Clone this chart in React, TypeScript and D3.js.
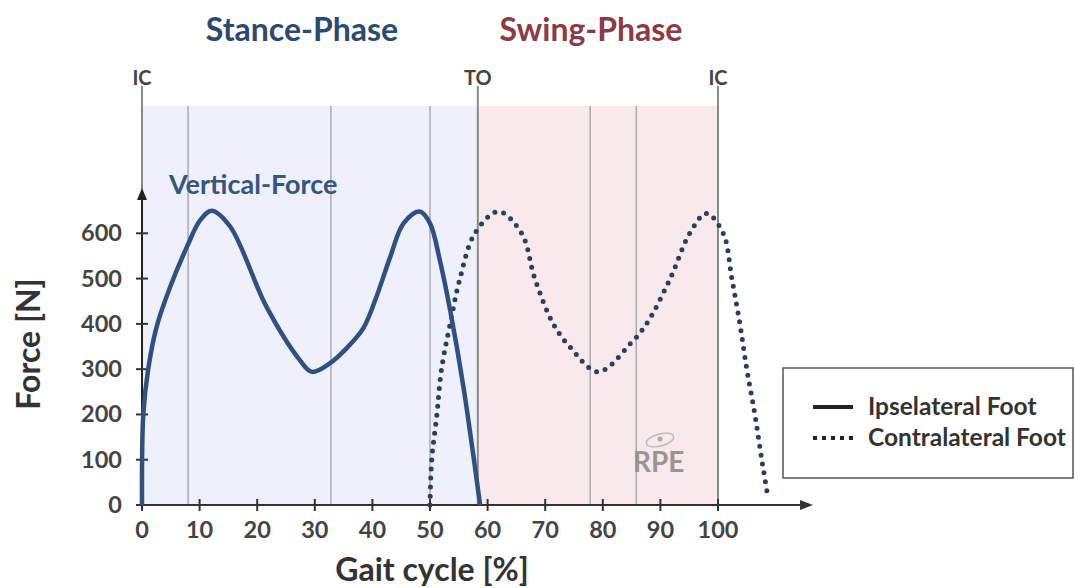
import React from "react";
import * as d3 from "d3";

const xTicks = [0, 10, 20, 30, 40, 50, 60, 70, 80, 90, 100];
const yTicks = [0, 100, 200, 300, 400, 500, 600];

const ipsiX = [0, 0.23, 1.1, 2.55, 4.9, 7.8, 10.1, 12.1, 15.3, 21.6, 27.4, 29.5, 32.6, 35.5, 38.4, 40.7, 43.1, 45.4, 48.2, 50, 51.7, 53.5, 55.8, 58.7];
const ipsiY = [0, 202, 302, 394, 482, 570, 629, 650, 615, 438, 320, 294, 313, 346, 390, 460, 548, 622, 648, 622, 541, 430, 261, 0];

const contraX = [50, 50.3, 51.2, 52, 53.5, 55.2, 57.8, 61.9, 65.9, 68.2, 71.4, 74.3, 79.2, 84.7, 87.6, 91.7, 95.1, 98, 100.9, 102.4, 103.8, 105, 106.4, 107.6, 108.7];
const contraY = [0, 100, 200, 300, 400, 500, 600, 648, 600, 500, 400, 349, 294, 355, 400, 500, 600, 644, 600, 500, 400, 300, 200, 100, 15];

const thinLines = [8, 32.8, 50, 77.8, 85.8];
const eventLines = [0, 58.3, 100];
const eventLabels = ["IC", "TO", "IC"];
const phaseLabels = ["Stance-Phase", "Swing-Phase"];
const legendLabels = ["Ipselateral Foot", "Contralateral Foot"];

const FONT = "Lato, 'Open Sans', sans-serif";

export default function App() {
  const x = d3.scaleLinear().domain([0, 100]).range([142, 718]);
  const y = d3.scaleLinear().domain([0, 600]).range([505, 233.3]);

  const line = d3
    .line<[number, number]>()
    .x((d) => x(d[0]))
    .y((d) => y(d[1]))
    .curve(d3.curveCatmullRom.alpha(0.5));

  const ipsi = ipsiX.map((v, i) => [v, ipsiY[i]] as [number, number]);
  const contra = contraX.map((v, i) => [v, contraY[i]] as [number, number]);

  const top = 106;
  const blue = "#2f5080";

  return (
    <svg
      width={1075}
      height={588}
      style={{ position: "absolute", left: 0, top: 0, background: "#fff" }}
      fontFamily={FONT}
    >
      {/* shaded phases */}
      <rect x={x(0)} y={top} width={x(58.3) - x(0)} height={y(0) - top} fill="#eef0fb" />
      <rect x={x(58.3)} y={top} width={x(100) - x(58.3)} height={y(0) - top} fill="#f8eaea" />

      {/* thin vertical lines */}
      {thinLines.map((v, i) => (
        <line key={i} x1={x(v)} x2={x(v)} y1={top} y2={y(0)} stroke="#9a9a9a" strokeWidth={1.2} />
      ))}
      {eventLines.map((v, i) => (
        <line key={i} x1={x(v)} x2={x(v)} y1={86} y2={y(0)} stroke="#8a8a8a" strokeWidth={2} />
      ))}
      {eventLines.map((v, i) => (
        <text key={i} x={x(v)} y={85} textAnchor="middle" fontSize={20} fontWeight={700} fill="#444">
          {eventLabels[i]}
        </text>
      ))}

      {/* phase titles */}
      <text x={302} y={41} textAnchor="middle" fontSize={32} fontWeight={700} fill="#2c4a6e">
        {phaseLabels[0]}
      </text>
      <text x={591} y={41} textAnchor="middle" fontSize={32} fontWeight={700} fill="#8c3a45">
        {phaseLabels[1]}
      </text>
      <text x={169} y={194} fontSize={27} fontWeight={700} fill="#34557c">
        Vertical-Force
      </text>

      {/* axes */}
      <line x1={x(0)} x2={x(0)} y1={y(0)} y2={198} stroke="#222" strokeWidth={2} />
      <path d={`M${x(0) - 5},${200} L${x(0)},${188} L${x(0) + 5},${200} Z`} fill="#222" />
      <line x1={x(0)} x2={800} y1={y(0)} y2={y(0)} stroke="#333" strokeWidth={2} />
      <path d={`M800,${y(0) - 5} L813,${y(0)} L800,${y(0) + 5} Z`} fill="#333" />

      {yTicks.map((t) => (
        <g key={t}>
          <line x1={x(0) - 6} x2={x(0) + 6} y1={y(t)} y2={y(t)} stroke="#333" strokeWidth={2} />
          <text x={122} y={y(t) + 8} textAnchor="end" fontSize={23.5} fontWeight={700} fill="#444">
            {t}
          </text>
        </g>
      ))}
      {xTicks.map((t) => (
        <g key={t}>
          <line x1={x(t)} x2={x(t)} y1={y(0) - 6} y2={y(0) + 6} stroke="#333" strokeWidth={2} />
          <text x={x(t)} y={538} textAnchor="middle" fontSize={23.5} fontWeight={700} fill="#444">
            {t}
          </text>
        </g>
      ))}

      <text x={432} y={581} textAnchor="middle" fontSize={32} fontWeight={700} fill="#333">
        Gait cycle [%]
      </text>
      <text
        transform={`translate(40,344) rotate(-90)`}
        textAnchor="middle"
        fontSize={32}
        fontWeight={700}
        fill="#333"
      >
        Force [N]
      </text>

      {/* watermark */}
      <ellipse cx={660} cy={440} rx={14} ry={6} fill="none" stroke="#bbb" strokeWidth={1.5} transform="rotate(-15 660 440)" />
      <circle cx={660} cy={439} r={2.5} fill="#aaa" />
      <text x={633} y={472} fontSize={28} fontWeight={700} fill="#8e8585" opacity={0.85}>
        RPE
      </text>

      {/* curves */}
      <path d={line(contra) || ""} fill="none" stroke="#2b3f5c" strokeWidth={5} strokeDasharray="0 9" strokeLinecap="round" />
      <path d={line(ipsi) || ""} fill="none" stroke={blue} strokeWidth={4.5} strokeLinejoin="round" />

      {/* legend */}
      <rect x={783} y={368} width={290} height={110} fill="#fff" stroke="#555" strokeWidth={1.5} />
      <line x1={813} x2={853} y1={407} y2={407} stroke="#222" strokeWidth={4} />
      <line x1={813} x2={855} y1={438} y2={438} stroke="#222" strokeWidth={4} strokeDasharray="4 5" />
      <text x={868} y={415} fontSize={24.5} fontWeight={700} fill="#333">
        {legendLabels[0]}
      </text>
      <text x={868} y={446} fontSize={24.5} fontWeight={700} fill="#333">
        {legendLabels[1]}
      </text>
    </svg>
  );
}
